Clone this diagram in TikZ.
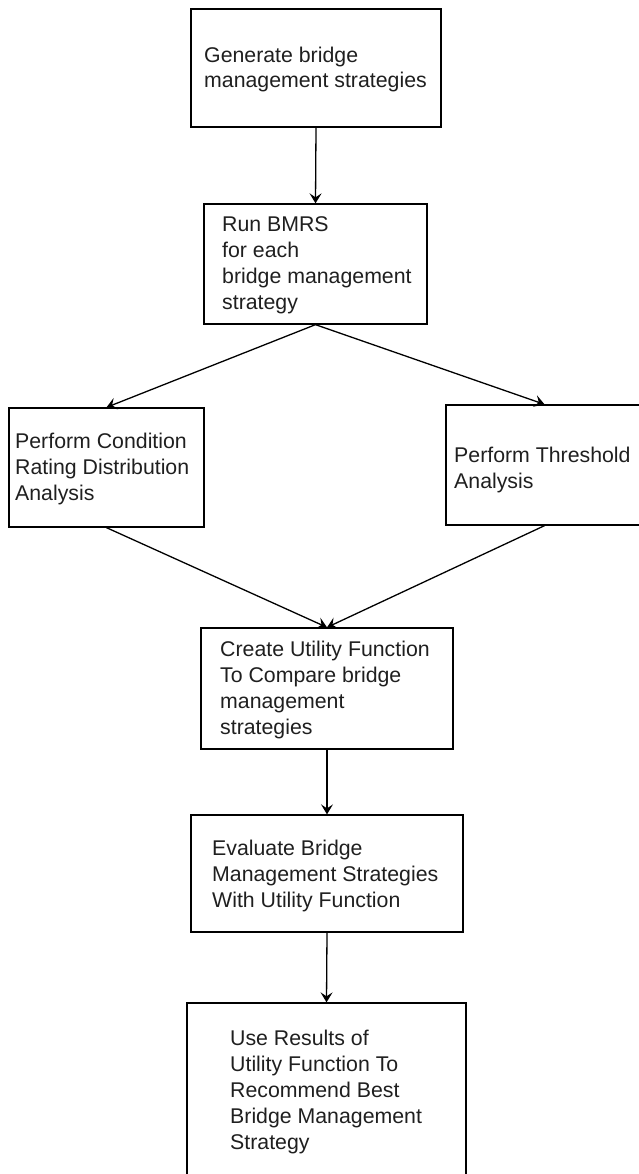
\documentclass[tikz,border=0pt]{standalone}
\usepackage{fontspec}
\setmainfont{Liberation Sans}
\usetikzlibrary{arrows.meta}

\begin{document}
\begin{tikzpicture}[x=1pt,y=-1pt,
  box/.style={draw=black,line width=1.3pt,rectangle,inner sep=0pt},
  txt/.style={anchor=base west,inner sep=0pt,align=left,text=black!88,
    font=\fontsize{21.3}{25.8}\selectfont},
  flow/.style={line width=1.3pt,-{Stealth[length=10pt,width=12pt,inset=4pt]}}]
  \useasboundingbox (0,0) rectangle (639,1174);

  % boxes (centre, width, height)
  \node[box,minimum width=250pt,minimum height=118pt] (b1) at (316,68) {};
  \node[box,minimum width=223pt,minimum height=120pt] (b2) at (315.5,264) {};
  \node[box,minimum width=195pt,minimum height=119pt] (b3) at (106.5,467.5) {};
  \node[box,minimum width=197pt,minimum height=120pt] (b4) at (544.5,465) {};
  \node[box,minimum width=252pt,minimum height=121pt] (b5) at (327,688.5) {};
  \node[box,minimum width=272pt,minimum height=117pt] (b6) at (327,873.5) {};
  \node[box,minimum width=279pt,minimum height=182pt] (b7) at (326.5,1094) {};

  % box texts, placed by the baseline of their last line
  \node[txt] (t1) at (204,88) {Generate bridge\\management strategies};
  \node[txt] (t2) at (222,309) {Run BMRS\\for each\\bridge management\\strategy};
  \node[txt] (t3) at (15,500) {Perform Condition\\Rating Distribution\\Analysis};
  \node[txt] (t4) at (454,488) {Perform Threshold\\Analysis};
  \node[txt] (t5) at (220,734) {Create Utility Function\\To Compare bridge\\management\\strategies};
  \node[txt] (t6) at (212,907) {Evaluate Bridge\\Management Strategies\\With Utility Function};
  \node[txt] (t7) at (230,1149) {Use Results of\\Utility Function To\\Recommend Best\\Bridge Management\\Strategy};

  % connectors
  \draw[flow] (b1.south) -- (b2.north);
  \draw[flow] (b2.south) -- (b3.north);
  \draw[flow] (b2.south) -- (b4.north);
  \draw[flow] (b3.south) -- (b5.north);
  \draw[flow] (b4.south) -- (b5.north);
  \draw[flow] (b5.south) -- (b6.north);
  \draw[flow] (b6.south) -- (b7.north);
\end{tikzpicture}
\end{document}
